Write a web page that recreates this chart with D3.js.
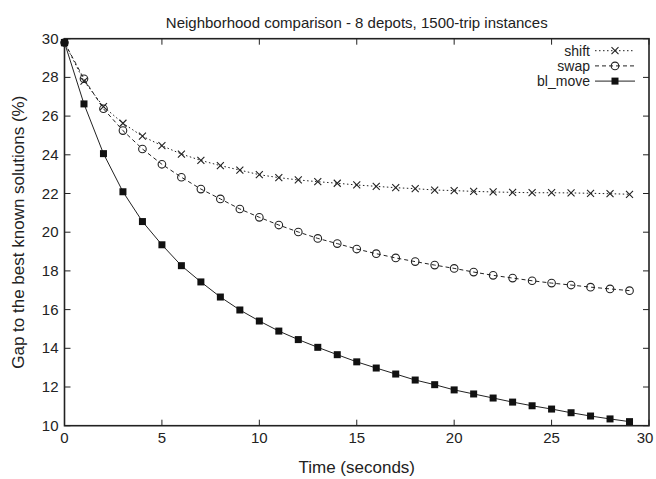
<!DOCTYPE html>
<html>
<head>
<meta charset="utf-8">
<script src="https://cdn.jsdelivr.net/npm/d3@7"></script>
<style>
  body { margin: 0; background: #fff; }
  svg text { font-family: "Liberation Sans", Arial, Helvetica, sans-serif; fill: #222; }
</style>
</head>
<body>
<div id="chart"></div>
<script>
// data (gap % per second)
var times = d3.range(0, 30);
var shift = [29.8, 27.81, 26.49, 25.63, 24.96, 24.47, 24.04, 23.71, 23.44, 23.21,
  22.97, 22.82, 22.70, 22.61, 22.53, 22.44, 22.37, 22.30, 22.25, 22.18,
  22.15, 22.11, 22.08, 22.06, 22.04, 22.04, 22.03, 22.01, 21.99, 21.96];
var swap = [29.8, 27.93, 26.38, 25.25, 24.30, 23.51, 22.84, 22.23, 21.72, 21.20,
  20.77, 20.37, 20.01, 19.68, 19.41, 19.13, 18.89, 18.67, 18.48, 18.30,
  18.13, 17.94, 17.77, 17.63, 17.49, 17.37, 17.27, 17.16, 17.07, 16.98];
var bl_move = [29.8, 26.63, 24.06, 22.09, 20.55, 19.35, 18.27, 17.43, 16.65, 15.98,
  15.41, 14.89, 14.45, 14.05, 13.67, 13.30, 12.98, 12.67, 12.36, 12.12,
  11.85, 11.64, 11.43, 11.22, 11.03, 10.86, 10.67, 10.50, 10.35, 10.21];
var xTicks = [0, 5, 10, 15, 20, 25, 30];
var yTicks = [10, 12, 14, 16, 18, 20, 22, 24, 26, 28, 30];

var width = 656, height = 479;
var margin = {top: 38.7, right: 7, bottom: 53.3, left: 64.5};

var svg = d3.select("#chart").append("svg")
  .attr("width", width)
  .attr("height", height);

var x = d3.scaleLinear().domain([0, 30]).range([margin.left, width - margin.right]);
var y = d3.scaleLinear().domain([10, 30]).range([height - margin.bottom, margin.top]);

// ticks, inward, mirrored
var tk = 6;
var axisCol = "#222";
xTicks.forEach(function(t) {
  svg.append("line").attr("x1", x(t)).attr("x2", x(t))
    .attr("y1", y(10)).attr("y2", y(10) - tk).attr("stroke", axisCol);
  svg.append("line").attr("x1", x(t)).attr("x2", x(t))
    .attr("y1", y(30)).attr("y2", y(30) + tk).attr("stroke", axisCol);
  svg.append("text").attr("x", t == 30 ? x(t) - 4 : x(t)).attr("y", y(10) + 17)
    .attr("text-anchor", "middle").attr("font-size", "15px").text(t);
});
yTicks.forEach(function(v) {
  svg.append("line").attr("x1", x(0)).attr("x2", x(0) + tk)
    .attr("y1", y(v)).attr("y2", y(v)).attr("stroke", axisCol);
  svg.append("line").attr("x1", x(30)).attr("x2", x(30) - tk)
    .attr("y1", y(v)).attr("y2", y(v)).attr("stroke", axisCol);
  svg.append("text").attr("x", x(0) - 6).attr("y", y(v) + 5)
    .attr("text-anchor", "end").attr("font-size", "15px").text(v);
});

// frame
svg.append("rect")
  .attr("x", x(0)).attr("y", y(30))
  .attr("width", x(30) - x(0)).attr("height", y(10) - y(30))
  .attr("fill", "none").attr("stroke", axisCol).attr("stroke-width", 1.6);

// titles
svg.append("text").attr("x", (x(0) + x(30)) / 2).attr("y", 28)
  .attr("text-anchor", "middle").attr("font-size", "15px")
  .text("Neighborhood comparison - 8 depots, 1500-trip instances");
svg.append("text").attr("x", (x(0) + x(30)) / 2).attr("y", 473)
  .attr("text-anchor", "middle").attr("font-size", "17px")
  .text("Time (seconds)");
svg.append("text")
  .attr("transform", "translate(24," + ((y(10) + y(30)) / 2) + ") rotate(-90)")
  .attr("text-anchor", "middle").attr("font-size", "17px")
  .text("Gap to the best known solutions (%)");

var series = [
  {name: "shift", values: shift, dash: "1.5,2.5", marker: "cross"},
  {name: "swap", values: swap, dash: "4,3", marker: "circle"},
  {name: "bl_move", values: bl_move, dash: null, marker: "square"}
];

var line = d3.line()
  .x(function(d) { return x(d.t); })
  .y(function(d) { return y(d.v); });

function drawMarker(g, type, cx, cy) {
  if (type == "cross") {
    g.append("path")
      .attr("d", "M" + (cx - 3.5) + "," + (cy - 3.5) + "L" + (cx + 3.5) + "," + (cy + 3.5) +
        "M" + (cx - 3.5) + "," + (cy + 3.5) + "L" + (cx + 3.5) + "," + (cy - 3.5))
      .attr("stroke", "#222").attr("stroke-width", 1.1);
  } else if (type == "circle") {
    g.append("circle").attr("cx", cx).attr("cy", cy).attr("r", 3.8)
      .attr("fill", "none").attr("stroke", "#222").attr("stroke-width", 1.1);
  } else {
    g.append("rect").attr("x", cx - 3.5).attr("y", cy - 3.5)
      .attr("width", 7).attr("height", 7).attr("fill", "#111");
  }
}

series.forEach(function(s) {
  var pts = times.map(function(t, i) { return {t: t, v: s.values[i]}; });
  svg.append("path").datum(pts)
    .attr("d", line)
    .attr("fill", "none")
    .attr("stroke", "#222")
    .attr("stroke-width", 1)
    .attr("stroke-dasharray", s.dash);
  var g = svg.append("g");
  pts.forEach(function(p) { drawMarker(g, s.marker, x(p.t), y(p.v)); });
});

// legend
var legend = svg.append("g");
series.forEach(function(s, i) {
  var ly = 50.7 + i * 15.2;
  legend.append("text").attr("x", 590).attr("y", ly + 5)
    .attr("text-anchor", "end").attr("font-size", "14px").text(s.name);
  legend.append("line").attr("x1", 595).attr("x2", 635)
    .attr("y1", ly).attr("y2", ly)
    .attr("stroke", "#222").attr("stroke-width", 1)
    .attr("stroke-dasharray", s.dash);
  drawMarker(legend, s.marker, 615, ly);
});
</script>
</body>
</html>
